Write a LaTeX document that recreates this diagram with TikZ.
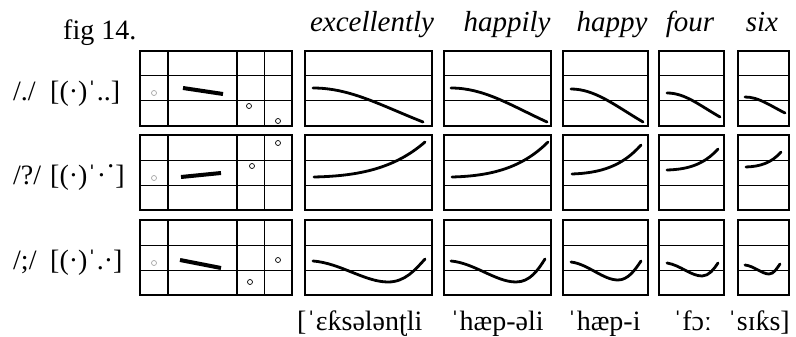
\documentclass[tikz,border=0pt]{standalone}
\usepackage{fontspec}
\setmainfont{Liberation Serif}
\usetikzlibrary{positioning}
\begin{document}
\begin{tikzpicture}[
  x=1pt, y=-1pt,
  frame/.style={line width=2.5pt},
  divider/.style={line width=2pt},
  staff/.style={line width=1pt},
  contour/.style={line width=2.8pt, line cap=round},
  level/.style={line width=4pt},
  dotmark/.style={circle, draw, line width=0.7pt, inner sep=0pt, minimum size=5pt},
  lead/.style={dotmark, draw=gray!70},
  word/.style={font=\fontsize{29}{32}\selectfont\itshape, anchor=base, inner sep=0pt},
  ipa/.style={font=\fontsize{28}{32}\selectfont, anchor=base, inner sep=0pt},
  tag/.style={font=\fontsize{28}{32}\selectfont, anchor=base west, inner sep=0pt}
]
\useasboundingbox (0,0) rectangle (796,337);

\node[tag] (fig) at (63,39.5) {fig 14.};
\node[word] (wExc)   at (372,32) {excellently};
\node[word] (wHaply) at (507,32) {happily};
\node[word] (wHappy) at (612,32) {happy};
\node[word] (wFour)  at (690,32) {four};
\node[word] (wSix)   at (762,32) {six};

\node[tag] (slashA) at (13,100) {/./};
\node[tag] (dotsA)  at (50,100) {[(·)ˈ..]};
\node[tag] (slashB) at (13,184) {/?/};
\node[tag] (dotsB)  at (50,184) {[(·)ˈ·\raisebox{0.3em}{·}]};
\node[tag] (slashC) at (13,269) {/;/};
\node[tag] (dotsC)  at (50,269) {[(·)ˈ.·]};

\foreach \t in {51,135,220} {
  \draw[staff] (140,\t+25) -- (292,\t+25) (140,\t+50) -- (292,\t+50) (264,\t) -- (264,\t+75);
  \draw[divider] (168,\t) -- (168,\t+75) (237,\t) -- (237,\t+75);
  \draw[frame] (140,\t) rectangle (292,\t+75);
  \foreach \l/\r in {305/432,444/551,563/648,659/724,738/789} {
    \draw[staff] (\l,\t+25) -- (\r,\t+25) (\l,\t+50) -- (\r,\t+50);
    \draw[frame] (\l,\t) rectangle (\r,\t+75);
  }
}

\node[lead] (leadA) at (154,93) {};
\draw[level] (183,88) -- (223,94);
\node[dotmark] (nucA) at (249,106) {};
\node[dotmark] (tailA) at (278,121) {};

\node[lead] (leadB) at (154,178) {};
\draw[level] (181,177) -- (221,173);
\node[dotmark] (nucB) at (252,166) {};
\node[dotmark] (tailB) at (278,143) {};

\node[lead] (leadC) at (154,263) {};
\draw[level] (180,260) -- (221,268);
\node[dotmark] (nucC) at (250,282) {};
\node[dotmark] (tailC) at (278,260) {};

\draw[contour] (313,88) .. controls (350,88) and (380,105) .. (423,122);
\draw[contour] (451,88) .. controls (484,88) and (510,105) .. (547,122);
\draw[contour] (571,89) .. controls (595,89) and (615,105.5) .. (643,122);
\draw[contour] (667,93) .. controls (685,93) and (699,105) .. (720,117);
\draw[contour] (745,97) .. controls (758.6,97) and (769,105) .. (785,113);

\draw[contour] (314,177) .. controls (360,176) and (395,168) .. (425,142);
\draw[contour] (452,177) .. controls (491,176) and (522,168) .. (548,142);
\draw[contour] (572,174) .. controls (600,173) and (622,166.5) .. (641,145);
\draw[contour] (667,170) .. controls (688,169.4) and (704,164.5) .. (718,149);
\draw[contour] (746,167) .. controls (760,166.5) and (771.5,163) .. (781,152);

\draw[contour] (313,261) .. controls (340,263) and (365,282) .. (388,282) .. controls (405,282) and (415,270) .. (425,259);
\draw[contour] (451,261) .. controls (474,263) and (496,282) .. (516,282) .. controls (530,282) and (538,270) .. (545,259);
\draw[contour] (571,262) .. controls (588,264) and (603,280) .. (618,280) .. controls (628,280) and (635,270) .. (641,261);
\draw[contour] (667,263) .. controls (680,265) and (691,276) .. (702,276) .. controls (709,276) and (714,269) .. (718,263);
\draw[contour] (745,265) .. controls (754,266) and (762,274) .. (769,274) .. controls (774,274) and (777,268) .. (780,264);

\node[ipa, anchor=base west] (tExc) at (297,330) {[ˈɛƙsələnʈli};
\node[ipa] (tHaply) at (497,330) {ˈhæp-əli};
\node[ipa] (tHappy) at (604,330) {ˈhæp-i};
\node[ipa] (tFour)  at (692.5,330) {ˈfɔː};
\node[ipa, anchor=base east] (tSix) at (790,330) {ˈsɪƙs]};
\end{tikzpicture}
\end{document}
